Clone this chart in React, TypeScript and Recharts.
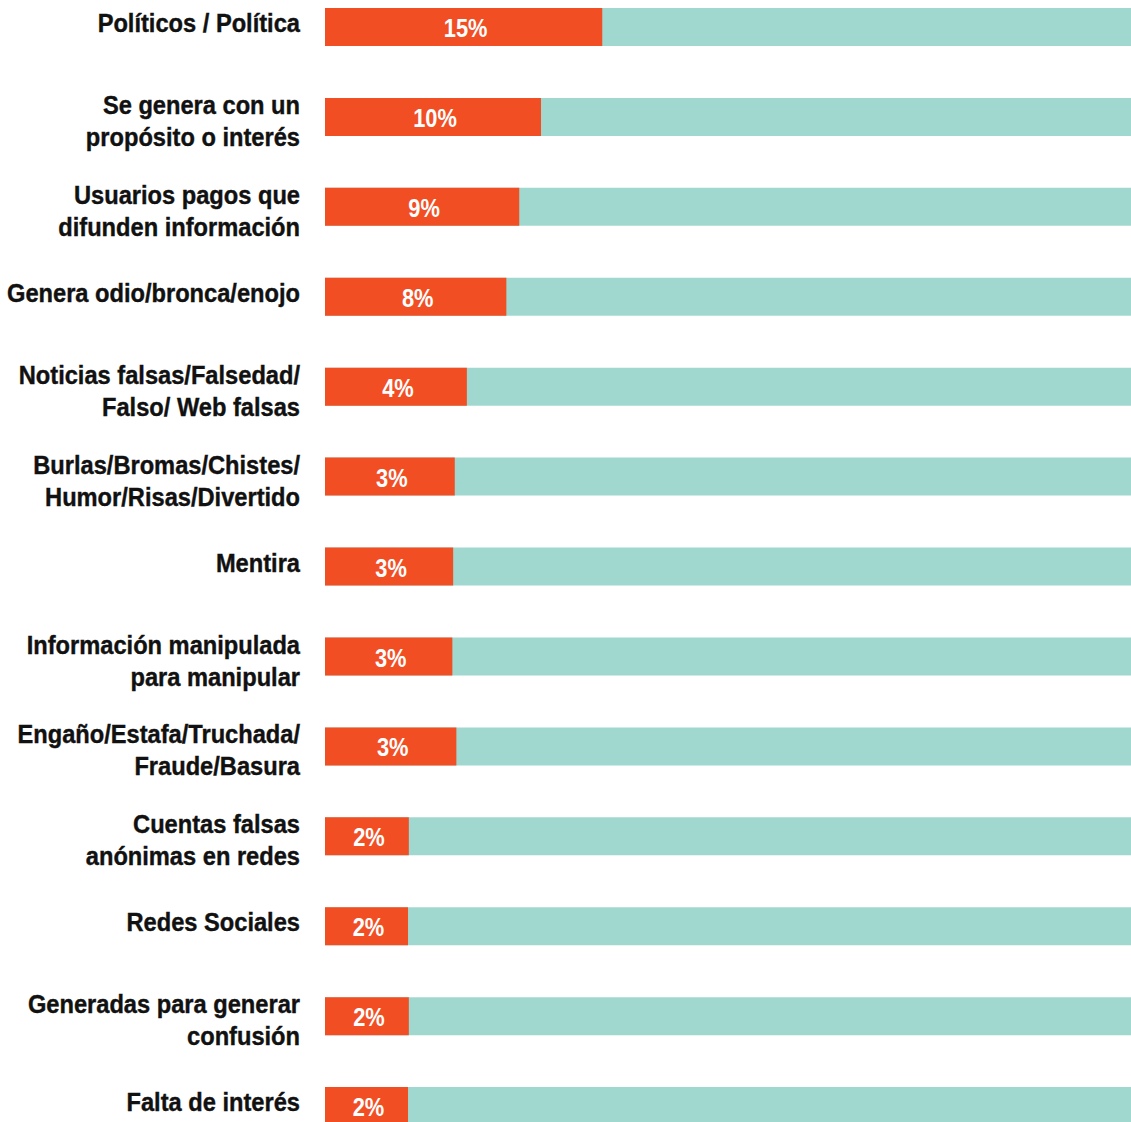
import React from 'react'
import {BarChart, Bar, XAxis, YAxis, LabelList} from 'recharts'

// categories, top to bottom
const categories = [
  'Políticos / Política',
  'Se genera con un\npropósito o interés',
  'Usuarios pagos que\ndifunden información',
  'Genera odio/bronca/enojo',
  'Noticias falsas/Falsedad/\nFalso/ Web falsas',
  'Burlas/Bromas/Chistes/\nHumor/Risas/Divertido',
  'Mentira',
  'Información manipulada\npara manipular',
  'Engaño/Estafa/Truchada/\nFraude/Basura',
  'Cuentas falsas\nanónimas en redes',
  'Redes Sociales',
  'Generadas para generar\nconfusión',
  'Falta de interés',
]

// printed percentages
const shares = ['15%', '10%', '9%', '8%', '4%', '3%', '3%', '3%', '3%', '2%', '2%', '2%', '2%']

// drawn bar length (share of full track)
const barLength = [34.4, 26.8, 24.1, 22.5, 17.6, 16.1, 15.9, 15.8, 16.3, 10.4, 10.3, 10.4, 10.3]

const ORANGE = '#F24E23'
const TEAL = '#A0D8CF'
const FONT = '"Liberation Sans", Arial, sans-serif'

const data = categories.map((name, i) => ({
  name,
  share: shares[i],
  value: barLength[i],
}))

function CategoryTick({y, payload}: any) {
  const lines = String(payload.value).split('\n')
  const lh = 32
  const shift = lines.length > 1 ? 4 : -4
  const start = -((lines.length - 1) * lh) / 2 + shift
  return (
    <g transform={`translate(300, ${y}) scale(0.91, 1)`}>
      <text
        x={0}
        y={0}
        textAnchor="end"
        fill="#111"
        stroke="#111"
        strokeWidth={0.4}
        fontFamily={FONT}
        fontWeight={700}
        fontSize={26}
      >
        {lines.map((l, i) => (
          <tspan key={i} x={0} y={start + i * lh} dy="0.35em">
            {l}
          </tspan>
        ))}
      </text>
    </g>
  )
}

function ShareLabel({x, y, width, height, value}: any) {
  const cx = x + width / 2 + 2
  const cy = y + height / 2 + 1
  return (
    <g transform={`translate(${cx}, ${cy}) scale(0.84, 1)`}>
      <text
        x={0}
        y={0}
        dy="0.35em"
        textAnchor="middle"
        fill="#fff"
        fontFamily={FONT}
        fontWeight={700}
        fontSize={26}
      >
        {value}
      </text>
    </g>
  )
}

export default function App() {
  return (
    <div
      style={{
        position: 'absolute',
        left: 0,
        top: 0,
        width: 1131,
        height: 1122,
        overflow: 'hidden',
        background: '#fff',
      }}
    >
      <div style={{marginTop: -18}}>
        <BarChart
          width={1131}
          height={1169}
          data={data}
          layout="vertical"
          margin={{top: 0, right: 0, bottom: 0, left: 0}}
          barSize={38}
        >
          <XAxis type="number" domain={[0, 100]} hide />
          <YAxis
            type="category"
            dataKey="name"
            width={325}
            axisLine={false}
            tickLine={false}
            interval={0}
            tick={<CategoryTick />}
          />
          <Bar
            dataKey="value"
            fill={ORANGE}
            background={{fill: TEAL}}
            isAnimationActive={false}
          >
            <LabelList dataKey="share" content={<ShareLabel />} />
          </Bar>
        </BarChart>
      </div>
    </div>
  )
}
